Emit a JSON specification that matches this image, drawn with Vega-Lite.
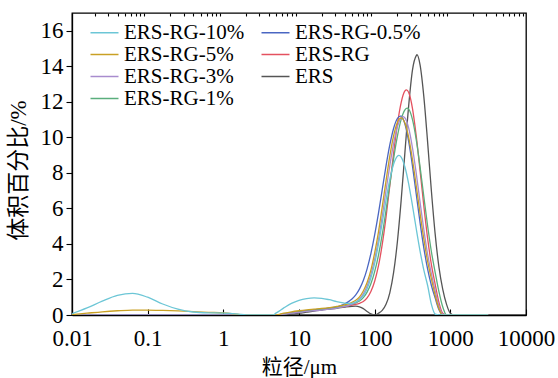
{
  "$schema": "https://vega.github.io/schema/vega-lite/v6.json",
  "width": 454,
  "height": 302,
  "autosize": {"type": "none"},
  "padding": {"left": 72, "top": 13, "right": 32, "bottom": 63},
  "config": {
    "font": "Liberation Serif, Times New Roman, serif",
    "view": {"stroke": "black", "strokeWidth": 1.3},
    "axis": {"labelFont": "Liberation Serif, Times New Roman, serif", "labelFontSize": 23, "labelColor": "black", "titleFont": "Liberation Serif, Times New Roman, Noto Sans CJK SC, serif", "titleFontSize": 21, "titleFontWeight": "normal", "titleColor": "black", "domainColor": "black", "tickColor": "black", "domainWidth": 1.3, "tickWidth": 1.1, "grid": false},
    "legend": {"labelFont": "Liberation Serif, Times New Roman, serif"}
  },
  "data": {"values": [
    {"s":"ERS","d":0.01,"v":0},{"s":"ERS","d":6.31,"v":0},{"s":"ERS","d":7.943,"v":0.05},{"s":"ERS","d":10,"v":0.1},{"s":"ERS","d":12.59,"v":0.16},{"s":"ERS","d":15.85,"v":0.22},{"s":"ERS","d":19.95,"v":0.28},{"s":"ERS","d":25.12,"v":0.33},{"s":"ERS","d":31.62,"v":0.38},{"s":"ERS","d":39.81,"v":0.44},{"s":"ERS","d":50.12,"v":0.49},{"s":"ERS","d":56.23,"v":0.5},{"s":"ERS","d":63.1,"v":0.46},{"s":"ERS","d":70.79,"v":0.36},{"s":"ERS","d":79.43,"v":0.2},{"s":"ERS","d":89.13,"v":0.06},{"s":"ERS","d":100,"v":0},{"s":"ERS","d":112.2,"v":0.1},{"s":"ERS","d":125.9,"v":0.26},{"s":"ERS","d":141.3,"v":0.6},{"s":"ERS","d":158.5,"v":1.25},{"s":"ERS","d":177.8,"v":2.38},{"s":"ERS","d":199.5,"v":4.11},{"s":"ERS","d":223.9,"v":6.45},{"s":"ERS","d":251.2,"v":9.17},{"s":"ERS","d":281.8,"v":11.8},{"s":"ERS","d":316.2,"v":13.8},{"s":"ERS","d":354.8,"v":14.6},{"s":"ERS","d":363,"v":14.65},{"s":"ERS","d":398.1,"v":14.08},{"s":"ERS","d":446.7,"v":12.28},{"s":"ERS","d":501.2,"v":9.72},{"s":"ERS","d":562.3,"v":6.97},{"s":"ERS","d":631,"v":4.54},{"s":"ERS","d":707.9,"v":2.68},{"s":"ERS","d":794.3,"v":1.44},{"s":"ERS","d":891.3,"v":0.6},{"s":"ERS","d":1000,"v":0.1},{"s":"ERS","d":1122,"v":0},{"s":"ERS","d":3162,"v":0},

    {"s":"ERS-RG","d":0.01,"v":0},{"s":"ERS-RG","d":5.012,"v":0},{"s":"ERS-RG","d":6.31,"v":0.06},{"s":"ERS-RG","d":7.943,"v":0.12},{"s":"ERS-RG","d":10,"v":0.18},{"s":"ERS-RG","d":12.59,"v":0.23},{"s":"ERS-RG","d":15.85,"v":0.28},{"s":"ERS-RG","d":19.95,"v":0.32},{"s":"ERS-RG","d":25.12,"v":0.37},{"s":"ERS-RG","d":31.62,"v":0.42},{"s":"ERS-RG","d":35.48,"v":0.45},{"s":"ERS-RG","d":39.81,"v":0.48},{"s":"ERS-RG","d":44.67,"v":0.51},{"s":"ERS-RG","d":50.12,"v":0.56},{"s":"ERS-RG","d":56.23,"v":0.6},{"s":"ERS-RG","d":63.1,"v":0.66},{"s":"ERS-RG","d":70.79,"v":0.76},{"s":"ERS-RG","d":79.43,"v":0.96},{"s":"ERS-RG","d":89.13,"v":1.32},{"s":"ERS-RG","d":100,"v":1.9},{"s":"ERS-RG","d":112.2,"v":2.76},{"s":"ERS-RG","d":125.9,"v":3.97},{"s":"ERS-RG","d":141.3,"v":5.51},{"s":"ERS-RG","d":158.5,"v":7.28},{"s":"ERS-RG","d":177.8,"v":9.09},{"s":"ERS-RG","d":199.5,"v":10.73},{"s":"ERS-RG","d":223.9,"v":11.96},{"s":"ERS-RG","d":251.2,"v":12.61},{"s":"ERS-RG","d":263.6,"v":12.67},{"s":"ERS-RG","d":281.8,"v":12.52},{"s":"ERS-RG","d":316.2,"v":11.62},{"s":"ERS-RG","d":354.8,"v":10.06},{"s":"ERS-RG","d":398.1,"v":8.13},{"s":"ERS-RG","d":446.7,"v":6.13},{"s":"ERS-RG","d":501.2,"v":4.31},{"s":"ERS-RG","d":562.3,"v":2.83},{"s":"ERS-RG","d":631,"v":1.73},{"s":"ERS-RG","d":707.9,"v":0.7},{"s":"ERS-RG","d":794.3,"v":0.1},{"s":"ERS-RG","d":891.3,"v":0},{"s":"ERS-RG","d":3162,"v":0},

    {"s":"ERS-RG-0.5%","d":0.01,"v":0},{"s":"ERS-RG-0.5%","d":5.012,"v":0},{"s":"ERS-RG-0.5%","d":6.31,"v":0.07},{"s":"ERS-RG-0.5%","d":7.943,"v":0.13},{"s":"ERS-RG-0.5%","d":10,"v":0.19},{"s":"ERS-RG-0.5%","d":12.59,"v":0.24},{"s":"ERS-RG-0.5%","d":15.85,"v":0.28},{"s":"ERS-RG-0.5%","d":19.95,"v":0.33},{"s":"ERS-RG-0.5%","d":25.12,"v":0.38},{"s":"ERS-RG-0.5%","d":31.62,"v":0.46},{"s":"ERS-RG-0.5%","d":35.48,"v":0.53},{"s":"ERS-RG-0.5%","d":39.81,"v":0.62},{"s":"ERS-RG-0.5%","d":44.67,"v":0.74},{"s":"ERS-RG-0.5%","d":50.12,"v":0.9},{"s":"ERS-RG-0.5%","d":56.23,"v":1.13},{"s":"ERS-RG-0.5%","d":63.1,"v":1.47},{"s":"ERS-RG-0.5%","d":70.79,"v":1.94},{"s":"ERS-RG-0.5%","d":79.43,"v":2.6},{"s":"ERS-RG-0.5%","d":89.13,"v":3.46},{"s":"ERS-RG-0.5%","d":100,"v":4.51},{"s":"ERS-RG-0.5%","d":112.2,"v":5.72},{"s":"ERS-RG-0.5%","d":125.9,"v":7.06},{"s":"ERS-RG-0.5%","d":141.3,"v":8.39},{"s":"ERS-RG-0.5%","d":158.5,"v":9.57},{"s":"ERS-RG-0.5%","d":177.8,"v":10.5},{"s":"ERS-RG-0.5%","d":199.5,"v":11.06},{"s":"ERS-RG-0.5%","d":218.8,"v":11.2},{"s":"ERS-RG-0.5%","d":223.9,"v":11.19},{"s":"ERS-RG-0.5%","d":251.2,"v":10.75},{"s":"ERS-RG-0.5%","d":281.8,"v":9.76},{"s":"ERS-RG-0.5%","d":316.2,"v":8.38},{"s":"ERS-RG-0.5%","d":354.8,"v":6.79},{"s":"ERS-RG-0.5%","d":398.1,"v":5.2},{"s":"ERS-RG-0.5%","d":446.7,"v":3.77},{"s":"ERS-RG-0.5%","d":501.2,"v":2.58},{"s":"ERS-RG-0.5%","d":562.3,"v":1.66},{"s":"ERS-RG-0.5%","d":631,"v":0.95},{"s":"ERS-RG-0.5%","d":707.9,"v":0.3},{"s":"ERS-RG-0.5%","d":794.3,"v":0},{"s":"ERS-RG-0.5%","d":3162,"v":0},

    {"s":"ERS-RG-1%","d":0.01,"v":0},{"s":"ERS-RG-1%","d":5.012,"v":0},{"s":"ERS-RG-1%","d":6.31,"v":0.06},{"s":"ERS-RG-1%","d":7.943,"v":0.12},{"s":"ERS-RG-1%","d":10,"v":0.17},{"s":"ERS-RG-1%","d":12.59,"v":0.22},{"s":"ERS-RG-1%","d":15.85,"v":0.27},{"s":"ERS-RG-1%","d":19.95,"v":0.31},{"s":"ERS-RG-1%","d":25.12,"v":0.36},{"s":"ERS-RG-1%","d":31.62,"v":0.41},{"s":"ERS-RG-1%","d":35.48,"v":0.45},{"s":"ERS-RG-1%","d":39.81,"v":0.5},{"s":"ERS-RG-1%","d":44.67,"v":0.55},{"s":"ERS-RG-1%","d":50.12,"v":0.6},{"s":"ERS-RG-1%","d":56.23,"v":0.68},{"s":"ERS-RG-1%","d":63.1,"v":0.79},{"s":"ERS-RG-1%","d":70.79,"v":0.98},{"s":"ERS-RG-1%","d":79.43,"v":1.29},{"s":"ERS-RG-1%","d":89.13,"v":1.76},{"s":"ERS-RG-1%","d":100,"v":2.44},{"s":"ERS-RG-1%","d":112.2,"v":3.36},{"s":"ERS-RG-1%","d":125.9,"v":4.52},{"s":"ERS-RG-1%","d":141.3,"v":5.89},{"s":"ERS-RG-1%","d":158.5,"v":7.35},{"s":"ERS-RG-1%","d":177.8,"v":8.79},{"s":"ERS-RG-1%","d":199.5,"v":10.05},{"s":"ERS-RG-1%","d":223.9,"v":11.01},{"s":"ERS-RG-1%","d":251.2,"v":11.55},{"s":"ERS-RG-1%","d":269.2,"v":11.64},{"s":"ERS-RG-1%","d":281.8,"v":11.59},{"s":"ERS-RG-1%","d":316.2,"v":11.0},{"s":"ERS-RG-1%","d":354.8,"v":9.86},{"s":"ERS-RG-1%","d":398.1,"v":8.34},{"s":"ERS-RG-1%","d":446.7,"v":6.65},{"s":"ERS-RG-1%","d":501.2,"v":5.01},{"s":"ERS-RG-1%","d":562.3,"v":3.56},{"s":"ERS-RG-1%","d":631,"v":2.39},{"s":"ERS-RG-1%","d":707.9,"v":1.3},{"s":"ERS-RG-1%","d":794.3,"v":0.45},{"s":"ERS-RG-1%","d":891.3,"v":0},{"s":"ERS-RG-1%","d":3162,"v":0},

    {"s":"ERS-RG-3%","d":0.01,"v":0},{"s":"ERS-RG-3%","d":5.012,"v":0},{"s":"ERS-RG-3%","d":6.31,"v":0.05},{"s":"ERS-RG-3%","d":7.943,"v":0.1},{"s":"ERS-RG-3%","d":10,"v":0.15},{"s":"ERS-RG-3%","d":12.59,"v":0.2},{"s":"ERS-RG-3%","d":15.85,"v":0.24},{"s":"ERS-RG-3%","d":19.95,"v":0.28},{"s":"ERS-RG-3%","d":25.12,"v":0.33},{"s":"ERS-RG-3%","d":31.62,"v":0.39},{"s":"ERS-RG-3%","d":35.48,"v":0.44},{"s":"ERS-RG-3%","d":39.81,"v":0.48},{"s":"ERS-RG-3%","d":44.67,"v":0.53},{"s":"ERS-RG-3%","d":50.12,"v":0.61},{"s":"ERS-RG-3%","d":56.23,"v":0.72},{"s":"ERS-RG-3%","d":63.1,"v":0.9},{"s":"ERS-RG-3%","d":70.79,"v":1.19},{"s":"ERS-RG-3%","d":79.43,"v":1.63},{"s":"ERS-RG-3%","d":89.13,"v":2.27},{"s":"ERS-RG-3%","d":100,"v":3.14},{"s":"ERS-RG-3%","d":112.2,"v":4.24},{"s":"ERS-RG-3%","d":125.9,"v":5.57},{"s":"ERS-RG-3%","d":141.3,"v":7.01},{"s":"ERS-RG-3%","d":158.5,"v":8.41},{"s":"ERS-RG-3%","d":177.8,"v":9.65},{"s":"ERS-RG-3%","d":199.5,"v":10.59},{"s":"ERS-RG-3%","d":223.9,"v":11.1},{"s":"ERS-RG-3%","d":238.2,"v":11.17},{"s":"ERS-RG-3%","d":251.2,"v":11.1},{"s":"ERS-RG-3%","d":281.8,"v":10.52},{"s":"ERS-RG-3%","d":316.2,"v":9.4},{"s":"ERS-RG-3%","d":354.8,"v":7.96},{"s":"ERS-RG-3%","d":398.1,"v":6.35},{"s":"ERS-RG-3%","d":446.7,"v":4.8},{"s":"ERS-RG-3%","d":501.2,"v":3.42},{"s":"ERS-RG-3%","d":562.3,"v":2.31},{"s":"ERS-RG-3%","d":631,"v":1.35},{"s":"ERS-RG-3%","d":707.9,"v":0.5},{"s":"ERS-RG-3%","d":794.3,"v":0.05},{"s":"ERS-RG-3%","d":891.3,"v":0},{"s":"ERS-RG-3%","d":3162,"v":0},

    {"s":"ERS-RG-5%","d":0.01,"v":0.02},{"s":"ERS-RG-5%","d":0.0158,"v":0.1},{"s":"ERS-RG-5%","d":0.0251,"v":0.18},{"s":"ERS-RG-5%","d":0.0398,"v":0.24},{"s":"ERS-RG-5%","d":0.0631,"v":0.28},{"s":"ERS-RG-5%","d":0.1,"v":0.28},{"s":"ERS-RG-5%","d":0.158,"v":0.26},{"s":"ERS-RG-5%","d":0.251,"v":0.23},{"s":"ERS-RG-5%","d":0.398,"v":0.19},{"s":"ERS-RG-5%","d":0.631,"v":0.15},{"s":"ERS-RG-5%","d":1,"v":0.12},{"s":"ERS-RG-5%","d":1.585,"v":0.04},{"s":"ERS-RG-5%","d":1.995,"v":0},{"s":"ERS-RG-5%","d":5.012,"v":0},{"s":"ERS-RG-5%","d":6.31,"v":0.1},{"s":"ERS-RG-5%","d":7.943,"v":0.18},{"s":"ERS-RG-5%","d":10,"v":0.24},{"s":"ERS-RG-5%","d":12.59,"v":0.29},{"s":"ERS-RG-5%","d":15.85,"v":0.33},{"s":"ERS-RG-5%","d":19.95,"v":0.37},{"s":"ERS-RG-5%","d":25.12,"v":0.42},{"s":"ERS-RG-5%","d":31.62,"v":0.48},{"s":"ERS-RG-5%","d":35.48,"v":0.53},{"s":"ERS-RG-5%","d":39.81,"v":0.57},{"s":"ERS-RG-5%","d":44.67,"v":0.63},{"s":"ERS-RG-5%","d":50.12,"v":0.71},{"s":"ERS-RG-5%","d":56.23,"v":0.83},{"s":"ERS-RG-5%","d":63.1,"v":1.02},{"s":"ERS-RG-5%","d":70.79,"v":1.35},{"s":"ERS-RG-5%","d":79.43,"v":1.83},{"s":"ERS-RG-5%","d":89.13,"v":2.53},{"s":"ERS-RG-5%","d":100,"v":3.5},{"s":"ERS-RG-5%","d":112.2,"v":4.67},{"s":"ERS-RG-5%","d":125.9,"v":6.09},{"s":"ERS-RG-5%","d":141.3,"v":7.55},{"s":"ERS-RG-5%","d":158.5,"v":8.94},{"s":"ERS-RG-5%","d":177.8,"v":10.08},{"s":"ERS-RG-5%","d":199.5,"v":10.84},{"s":"ERS-RG-5%","d":223.9,"v":11.1},{"s":"ERS-RG-5%","d":251.2,"v":10.81},{"s":"ERS-RG-5%","d":281.8,"v":9.98},{"s":"ERS-RG-5%","d":316.2,"v":8.74},{"s":"ERS-RG-5%","d":354.8,"v":7.26},{"s":"ERS-RG-5%","d":398.1,"v":5.72},{"s":"ERS-RG-5%","d":446.7,"v":4.27},{"s":"ERS-RG-5%","d":501.2,"v":3.02},{"s":"ERS-RG-5%","d":562.3,"v":2.03},{"s":"ERS-RG-5%","d":631,"v":1.1},{"s":"ERS-RG-5%","d":707.9,"v":0.35},{"s":"ERS-RG-5%","d":794.3,"v":0},{"s":"ERS-RG-5%","d":3162,"v":0},

    {"s":"ERS-RG-10%","d":0.01,"v":0.08},{"s":"ERS-RG-10%","d":0.0158,"v":0.4},{"s":"ERS-RG-10%","d":0.0251,"v":0.78},{"s":"ERS-RG-10%","d":0.0398,"v":1.1},{"s":"ERS-RG-10%","d":0.0631,"v":1.22},{"s":"ERS-RG-10%","d":0.1,"v":1.0},{"s":"ERS-RG-10%","d":0.158,"v":0.62},{"s":"ERS-RG-10%","d":0.251,"v":0.33},{"s":"ERS-RG-10%","d":0.398,"v":0.17},{"s":"ERS-RG-10%","d":0.631,"v":0.12},{"s":"ERS-RG-10%","d":1,"v":0.11},{"s":"ERS-RG-10%","d":1.585,"v":0.05},{"s":"ERS-RG-10%","d":1.995,"v":0},{"s":"ERS-RG-10%","d":4.467,"v":0},{"s":"ERS-RG-10%","d":5.012,"v":0.12},{"s":"ERS-RG-10%","d":6.31,"v":0.4},{"s":"ERS-RG-10%","d":7.943,"v":0.65},{"s":"ERS-RG-10%","d":10,"v":0.82},{"s":"ERS-RG-10%","d":12.59,"v":0.92},{"s":"ERS-RG-10%","d":15.85,"v":0.96},{"s":"ERS-RG-10%","d":19.95,"v":0.94},{"s":"ERS-RG-10%","d":25.12,"v":0.86},{"s":"ERS-RG-10%","d":31.62,"v":0.75},{"s":"ERS-RG-10%","d":35.48,"v":0.71},{"s":"ERS-RG-10%","d":39.81,"v":0.67},{"s":"ERS-RG-10%","d":44.67,"v":0.66},{"s":"ERS-RG-10%","d":50.12,"v":0.66},{"s":"ERS-RG-10%","d":56.23,"v":0.73},{"s":"ERS-RG-10%","d":63.1,"v":0.86},{"s":"ERS-RG-10%","d":70.79,"v":1.09},{"s":"ERS-RG-10%","d":79.43,"v":1.48},{"s":"ERS-RG-10%","d":89.13,"v":2.08},{"s":"ERS-RG-10%","d":100,"v":2.91},{"s":"ERS-RG-10%","d":112.2,"v":3.97},{"s":"ERS-RG-10%","d":125.9,"v":5.19},{"s":"ERS-RG-10%","d":141.3,"v":6.47},{"s":"ERS-RG-10%","d":158.5,"v":7.63},{"s":"ERS-RG-10%","d":177.8,"v":8.49},{"s":"ERS-RG-10%","d":199.5,"v":8.94},{"s":"ERS-RG-10%","d":208.9,"v":8.98},{"s":"ERS-RG-10%","d":223.9,"v":8.89},{"s":"ERS-RG-10%","d":251.2,"v":8.33},{"s":"ERS-RG-10%","d":281.8,"v":7.37},{"s":"ERS-RG-10%","d":316.2,"v":6.15},{"s":"ERS-RG-10%","d":354.8,"v":4.84},{"s":"ERS-RG-10%","d":398.1,"v":3.6},{"s":"ERS-RG-10%","d":446.7,"v":2.52},{"s":"ERS-RG-10%","d":501.2,"v":1.66},{"s":"ERS-RG-10%","d":562.3,"v":0.6},{"s":"ERS-RG-10%","d":631,"v":0.05},{"s":"ERS-RG-10%","d":707.9,"v":0},{"s":"ERS-RG-10%","d":3162,"v":0}
  ]},
  "encoding": {
    "y": {"field": "v", "type": "quantitative", "scale": {"domain": [0, 17], "nice": false, "zero": true},
      "axis": {"values": [0, 2, 4, 6, 8, 10, 12, 14, 16], "tickSize": 6, "labelPadding": 3, "title": "体积百分比/%", "titleX": -54, "titleY": 157, "titleAngle": -90, "titleAlign": "center", "titleBaseline": "middle", "titleFontSize": 23}}
  },
  "layer": [
    {
      "mark": {"type": "line", "interpolate": "monotone", "strokeWidth": 1.3, "clip": true},
      "encoding": {
        "x": {"field": "d", "type": "quantitative", "scale": {"type": "log", "domain": [0.01, 10000], "nice": false},
          "axis": {"values": [0.01, 0.1, 1, 10, 100, 1000, 10000], "format": "~g", "tickSize": -6, "labelPadding": 18, "labelFlush": false, "labelOverlap": false, "title": "粒径/μm", "titleX": 227, "titleY": 52, "titleAlign": "center", "titleBaseline": "middle"}},
        "color": {"field": "s", "type": "nominal",
          "scale": {"domain": ["ERS-RG-10%", "ERS-RG-5%", "ERS-RG-3%", "ERS-RG-1%", "ERS-RG-0.5%", "ERS-RG", "ERS"],
                    "range": ["#6cc6d6", "#c9a024", "#a88cce", "#5aae7c", "#4a66c2", "#e4515f", "#555555"]},
          "legend": {"title": null, "orient": "none", "legendX": 22, "legendY": 9, "columns": 2, "symbolType": "M-2,0H2", "symbolSize": 196, "symbolStrokeWidth": 1.5, "labelFont": "Liberation Serif, Times New Roman, serif", "labelFontSize": 21, "labelColor": "black", "labelOffset": 9, "rowPadding": 0, "columnPadding": 13, "padding": 0, "labelLimit": 300}}
      }
    },
    {
      "mark": {"type": "point", "opacity": 0},
      "encoding": {
        "x": {"field": "d", "type": "quantitative", "scale": {"type": "log", "domain": [0.01, 10000], "nice": false},
          "axis": {"values": [0.02,0.03,0.04,0.05,0.06,0.07,0.08,0.09,0.2,0.3,0.4,0.5,0.6,0.7,0.8,0.9,2,3,4,5,6,7,8,9,20,30,40,50,60,70,80,90,200,300,400,500,600,700,800,900,2000,3000,4000,5000,6000,7000,8000,9000], "labels": false, "domain": false, "tickSize": -3, "title": null, "grid": false}}
      }
    }
  ],
  "resolve": {"axis": {"x": "independent"}}
}
